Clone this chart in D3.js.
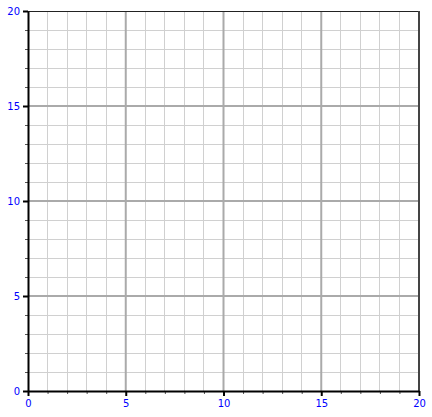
<!DOCTYPE html>
<html><head><meta charset="utf-8">
<script src="https://cdn.jsdelivr.net/npm/d3@7"></script>
<style>body{margin:0;background:#fff}svg{display:block}</style>
</head><body>
<svg id="c" width="432" height="417"></svg>
<script>
const xDomain = [0, 20];
const yDomain = [0, 20];
const majorTicks = [0, 5, 10, 15, 20];
const minorTicks = d3.range(0, 21, 1);

const svg = d3.select("#c");
const m = {left: 28, top: 11, right: 13, bottom: 26};
const W = 432, H = 417;
const x = d3.scaleLinear().domain(xDomain).range([m.left, W - m.right]);
const y = d3.scaleLinear().domain(yDomain).range([H - m.bottom, m.top]);

const g = svg.append("g");
// minor grid
g.selectAll(".mx").data(minorTicks.filter(t => t % 5)).enter().append("line")
  .attr("x1", d => x(d)).attr("x2", d => x(d)).attr("y1", y(20)).attr("y2", y(0))
  .attr("stroke", "#d0d0d0").attr("stroke-width", 1).attr("shape-rendering", "crispEdges");
g.selectAll(".my").data(minorTicks.filter(t => t % 5)).enter().append("line")
  .attr("y1", d => y(d)).attr("y2", d => y(d)).attr("x1", x(0)).attr("x2", x(20))
  .attr("stroke", "#d0d0d0").attr("stroke-width", 1).attr("shape-rendering", "crispEdges");
// major grid
const inner = majorTicks.filter(t => t > 0 && t < 20);
g.selectAll(".Mx").data(inner).enter().append("line")
  .attr("x1", d => x(d)).attr("x2", d => x(d)).attr("y1", y(20)).attr("y2", y(0))
  .attr("stroke", "#aaaaaa").attr("stroke-width", 2);
g.selectAll(".My").data(inner).enter().append("line")
  .attr("y1", d => y(d)).attr("y2", d => y(d)).attr("x1", x(0)).attr("x2", x(20))
  .attr("stroke", "#aaaaaa").attr("stroke-width", 2);

// border top/right
g.append("line").attr("x1", x(0)).attr("x2", x(20)).attr("y1", y(20)+0.5).attr("y2", y(20)+0.5)
  .attr("stroke", "#222").attr("stroke-width", 1);
g.append("line").attr("x1", x(20)).attr("x2", x(20)).attr("y1", y(20)).attr("y2", y(0))
  .attr("stroke", "#444").attr("stroke-width", 2);

// axes
const font = "DejaVu Sans, Verdana, sans-serif";
const xMinor = d3.axisBottom(x).tickValues(minorTicks.filter(t => t % 5)).tickSize(3).tickFormat("");
const yMinor = d3.axisLeft(y).tickValues(minorTicks.filter(t => t % 5)).tickSize(3).tickFormat("");
svg.append("g").attr("transform", `translate(0,${y(0)})`).call(xMinor)
  .call(s => s.select(".domain").remove())
  .selectAll("line").attr("stroke", "#555");
svg.append("g").attr("transform", `translate(${x(0)},0)`).call(yMinor)
  .call(s => s.select(".domain").remove())
  .selectAll("line").attr("stroke", "#555");

const xAxis = d3.axisBottom(x).tickValues(majorTicks).tickSize(5).tickPadding(4).tickSizeOuter(0);
const yAxis = d3.axisLeft(y).tickValues(majorTicks).tickSize(5).tickPadding(3).tickSizeOuter(0);
const gx = svg.append("g").attr("transform", `translate(0,${y(0)})`).call(xAxis);
const gy = svg.append("g").attr("transform", `translate(${x(0)},0)`).call(yAxis);
[gx, gy].forEach(a => {
  a.select(".domain").attr("stroke", "#000").attr("stroke-width", 2);
  a.selectAll(".tick line").attr("stroke", "#000").attr("stroke-width", 2);
  a.selectAll(".tick text").attr("fill", "#0000ff").style("font-family", font).style("font-size", "10px");
});
</script>
</body></html>
